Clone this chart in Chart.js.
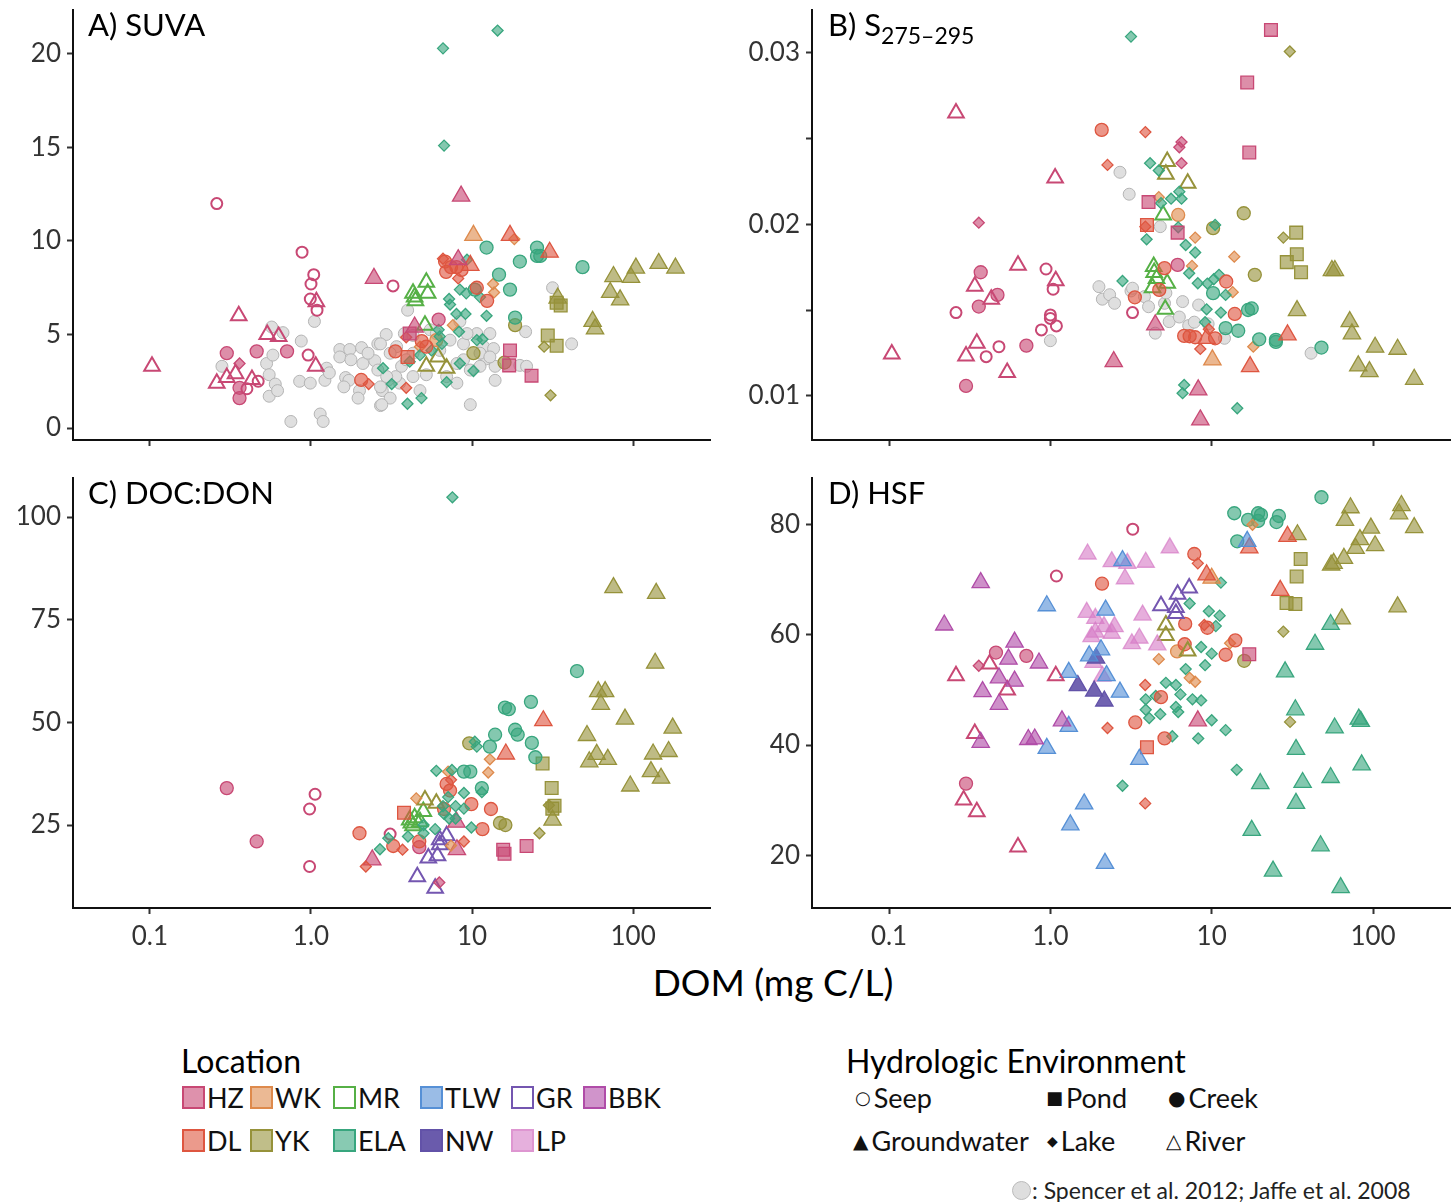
<!DOCTYPE html>
<html>
<head>
<meta charset="utf-8">
<script src="https://cdn.jsdelivr.net/npm/chart.js@4.4.1/dist/chart.umd.min.js"></script>
<style>
  body { margin: 0; background: #fff; overflow: hidden; }
  #page { position: relative; width: 1456px; height: 1202px; overflow: hidden; font-family: Lato, "DejaVu Sans", sans-serif; color: #000; }
  canvas { position: absolute; }
  .txt { position: absolute; line-height: 1; white-space: nowrap; }
  .item { position: absolute; display: flex; align-items: center; font-size: 27px; line-height: 1; white-space: nowrap; color: #111; }
  .sw { width: 23px; height: 23px; box-sizing: border-box; border: 2px solid; margin-right: 2px; }
  .sym { font-family: "DejaVu Sans", sans-serif; margin-right: 3px; }
</style>
</head>
<body>
<div id="page">
  <canvas id="cA" width="728" height="500" style="left:0;top:-30px"></canvas>
  <canvas id="cB" width="730" height="500" style="left:740px;top:-30px"></canvas>
  <canvas id="cC" width="728" height="520" style="left:0;top:438px"></canvas>
  <canvas id="cD" width="730" height="520" style="left:740px;top:438px"></canvas>

  <div class="txt" style="left:88px;top:9px;font-size:31px">A) SUVA</div>
  <div class="txt" style="left:828px;top:9px;font-size:31px">B) S<sub style="font-size:23px;vertical-align:-8px">275–295</sub></div>
  <div class="txt" style="left:88px;top:477px;font-size:31px">C) DOC:DON</div>
  <div class="txt" style="left:828px;top:477px;font-size:31px">D) HSF</div>
  <div class="txt" style="left:773px;top:963px;font-size:37px;transform:translateX(-50%)">DOM (mg C/L)</div>

  <div class="txt" style="left:181px;top:1045px;font-size:32px">Location</div>
  <div id="locLegend"></div>

  <div class="txt" style="left:846px;top:1045px;font-size:32px">Hydrologic Environment</div>
  <div class="item" style="left:855px;top:1084px"><span class="sym" style="font-size:18px">○</span>Seep</div>
  <div class="item" style="left:1046px;top:1084px"><span class="sym" style="font-size:18px">■</span>Pond</div>
  <div class="item" style="left:1168px;top:1084px"><span class="sym" style="font-size:20px">●</span>Creek</div>
  <div class="item" style="left:853px;top:1127px"><span class="sym" style="font-size:20px">▲</span>Groundwater</div>
  <div class="item" style="left:1047px;top:1127px"><span class="sym" style="font-size:14px">◆</span>Lake</div>
  <div class="item" style="left:1166px;top:1127px"><span class="sym" style="font-size:20px">△</span>River</div>
  <div class="item" style="left:1012px;top:1179px;font-size:23px;color:#222"><span style="display:inline-block;width:17px;height:17px;border-radius:50%;background:#dedede;border:1px solid #bbb;margin-right:1px"></span>: Spencer et al. 2012; Jaffe et al. 2008</div>
</div>

<script>
// tick values / labels
const xTickValues = [0.1, 1, 10, 100];
const xTickLabels = ['0.1', '1.0', '10', '100'];
const suvaTicks = [0, 5, 10, 15, 20];
const suvaTickLabels = ['0', '5', '10', '15', '20'];
const slopeTicks = [0.01, 0.015, 0.02, 0.025, 0.03];
const slopeTickLabels = ['0.01', '', '0.02', '', '0.03'];
const ratioTicks = [25, 50, 75, 100];
const ratioTickLabels = ['25', '50', '75', '100'];
const hsfTicks = [20, 40, 60, 80];
const hsfTickLabels = ['20', '40', '60', '80'];

const locations = ['HZ', 'WK', 'MR', 'TLW', 'GR', 'BBK', 'DL', 'YK', 'ELA', 'NW', 'LP'];

// [DOM, value, location, environment]
const suvaPoints = [
  [0.26,12.0,'HZ','seep'],[0.88,9.4,'HZ','seep'],[1.04,8.2,'HZ','seep'],[1.0,7.7,'HZ','seep'],[0.99,6.9,'HZ','seep'],
  [1.09,6.3,'HZ','seep'],[3.23,7.6,'HZ','seep'],[0.96,3.9,'HZ','seep'],[0.47,2.5,'HZ','seep'],[0.40,2.1,'HZ','seep'],
  [0.103,3.3,'HZ','river'],[0.356,6.0,'HZ','river'],[0.535,5.0,'HZ','river'],[0.63,4.9,'HZ','river'],[1.08,6.75,'HZ','river'],
  [1.07,3.3,'HZ','river'],[0.26,2.4,'HZ','river'],[0.30,2.7,'HZ','river'],[0.34,2.9,'HZ','river'],[0.43,2.6,'HZ','river'],
  [0.30,4.0,'HZ','creek'],[0.46,4.1,'HZ','creek'],[0.71,4.1,'HZ','creek'],[0.36,2.15,'HZ','creek'],[0.36,1.6,'HZ','creek'],[6.2,5.8,'HZ','creek'],
  [0.36,3.45,'HZ','lake'],
  [2.46,8.0,'HZ','groundwater'],[8.55,12.4,'HZ','groundwater'],[8.2,9.0,'HZ','groundwater'],[4.4,5.4,'HZ','groundwater'],
  [4.1,5.05,'HZ','pond'],[17.2,4.15,'HZ','pond'],[17.0,3.35,'HZ','pond'],[23.4,2.8,'HZ','pond'],
  [3.34,4.1,'DL','creek'],[2.05,2.57,'DL','creek'],[6.8,8.9,'DL','creek'],[7.4,8.6,'DL','creek'],[6.9,8.35,'DL','creek'],
  [8.0,8.6,'DL','creek'],[8.6,8.45,'DL','creek'],[10.7,7.5,'DL','creek'],[12.4,6.8,'DL','creek'],[4.87,4.65,'DL','creek'],[5.2,4.35,'DL','creek'],
  [2.28,2.35,'DL','lake'],[6.6,9.05,'DL','lake'],[8.2,8.0,'DL','lake'],[3.9,4.85,'DL','lake'],[3.9,2.15,'DL','lake'],
  [17.2,10.3,'DL','groundwater'],[30.3,9.4,'DL','groundwater'],[9.75,8.7,'DL','groundwater'],
  [3.98,3.8,'DL','pond'],
  [14.4,21.25,'ELA','lake'],[6.6,20.3,'ELA','lake'],[6.7,15.1,'ELA','lake'],[9.3,9.0,'ELA','lake'],[8.4,7.4,'ELA','lake'],
  [9.2,7.2,'ELA','lake'],[11.2,7.0,'ELA','lake'],[7.2,6.9,'ELA','lake'],[7.3,6.6,'ELA','lake'],[8.0,6.1,'ELA','lake'],
  [9.1,6.1,'ELA','lake'],[12.3,6.0,'ELA','lake'],[8.3,5.15,'ELA','lake'],[6.2,5.25,'ELA','lake'],[6.3,4.9,'ELA','lake'],
  [6.5,4.5,'ELA','lake'],[5.6,4.15,'ELA','lake'],[10.7,4.7,'ELA','lake'],[11.6,4.75,'ELA','lake'],[4.75,3.9,'ELA','lake'],
  [4.1,3.55,'ELA','lake'],[2.8,3.2,'ELA','lake'],[8.4,3.45,'ELA','lake'],[10.2,3.05,'ELA','lake'],[3.17,2.35,'ELA','lake'],
  [6.95,2.45,'ELA','lake'],[4.85,1.6,'ELA','lake'],[3.97,1.3,'ELA','lake'],
  [12.3,9.65,'ELA','creek'],[25.3,9.65,'ELA','creek'],[25.3,9.2,'ELA','creek'],[26.5,9.2,'ELA','creek'],[19.8,8.9,'ELA','creek'],
  [48.5,8.6,'ELA','creek'],[14.7,8.2,'ELA','creek'],[17.2,7.4,'ELA','creek'],[10.4,7.4,'ELA','creek'],[18.5,5.9,'ELA','creek'],
  [10.2,10.3,'WK','groundwater'],
  [18.3,10.1,'WK','lake'],[13.5,7.7,'WK','lake'],[13.7,7.25,'WK','lake'],[7.6,5.5,'WK','lake'],[4.75,4.35,'WK','lake'],
  [6.0,4.7,'WK','creek'],
  [5.2,7.8,'MR','river'],[5.3,7.2,'MR','river'],[4.3,7.2,'MR','river'],[4.4,7.0,'MR','river'],[4.45,6.8,'MR','river'],[5.1,5.5,'MR','river'],
  [5.2,3.3,'YK','river'],[6.95,3.2,'YK','river'],[6.15,3.8,'YK','river'],
  [10.2,4.0,'YK','creek'],[15.9,3.5,'YK','creek'],[18.5,5.5,'YK','creek'],
  [33.5,6.7,'YK','pond'],[35.5,6.55,'YK','pond'],[29.5,4.95,'YK','pond'],[33.5,4.4,'YK','pond'],
  [28,4.35,'YK','lake'],[30.7,1.75,'YK','lake'],
  [75.5,8.1,'YK','groundwater'],[97,8.05,'YK','groundwater'],[104,8.55,'YK','groundwater'],[144,8.8,'YK','groundwater'],
  [183,8.55,'YK','groundwater'],[72,7.25,'YK','groundwater'],[83,6.85,'YK','groundwater'],[56,5.7,'YK','groundwater'],
  [58,5.3,'YK','groundwater'],[34,6.95,'YK','groundwater']
];

// Spencer et al. 2012; Jaffe et al. 2008
const suvaReference = [
  [0.57,5.4],[0.67,5.1],[0.87,4.65],[0.28,3.3],[0.53,3.45],[0.58,3.9],[0.55,2.85],[0.6,2.35],[0.55,1.7],[0.62,2.0],
  [0.85,2.5],[0.99,2.4],[1.22,2.55],[1.25,3.2],[1.3,2.95],[1.05,5.7],[0.75,0.35],[1.14,0.75],[1.19,0.35],[1.51,4.2],
  [1.74,4.2],[2.06,4.3],[2.6,4.5],[2.93,5.0],[1.51,3.8],[1.77,3.65],[2.1,3.45],[2.49,3.6],[2.26,4.0],[1.64,2.7],
  [1.72,2.55],[1.6,2.2],[2.0,2.0],[1.96,1.6],[2.6,3.1],[3.0,2.55],[2.77,2.0],[3.1,1.6],[2.7,1.2],[3.55,2.4],
  [3.36,2.75],[3.98,6.3],[3.4,4.35],[2.7,4.5],[3.1,4.0],[3.65,3.3],[2.95,2.75],[2.7,2.2],[2.75,1.25],[4.3,2.75],
  [4.75,2.0],[5.2,2.85],[6.3,4.15],[7.3,4.7],[8.05,3.45],[8.05,2.4],[8.85,4.5],[9.75,1.25],[10.7,5.05],[11.8,4.35],
  [12.9,5.05],[13.6,4.25],[12.3,3.7],[13.9,3.3],[13.9,2.55],[11.2,3.3],[9.75,3.1],[11.2,4.0],[19.8,3.35],[21.8,3.3],
  [21.5,5.15],[31.6,7.5],[41.5,4.5],[3.8,5.05],[4.3,4.0],[3.9,3.65],[5.5,5.25],[6.0,5.05],[6.95,2.75],[8.85,3.65],
  [9.3,5.05],[12.9,3.8],[8.4,5.7],[4.3,4.95]
];

const slopePoints = [
  [0.26,0.0265,'HZ','river'],[1.07,0.0227,'HZ','river'],[0.104,0.01245,'HZ','river'],[0.63,0.01762,'HZ','river'],[0.34,0.0164,'HZ','river'],
  [0.43,0.01564,'HZ','river'],[1.08,0.01672,'HZ','river'],[0.35,0.01307,'HZ','river'],[0.30,0.01233,'HZ','river'],[0.54,0.01136,'HZ','river'],
  [0.94,0.0174,'HZ','seep'],[1.04,0.01622,'HZ','seep'],[1.0,0.01472,'HZ','seep'],[1.0,0.01452,'HZ','seep'],[1.09,0.01408,'HZ','seep'],
  [0.88,0.01385,'HZ','seep'],[0.26,0.01486,'HZ','seep'],[0.48,0.01287,'HZ','seep'],[0.40,0.01229,'HZ','seep'],[3.23,0.01486,'HZ','seep'],
  [0.37,0.01721,'HZ','creek'],[0.47,0.01589,'HZ','creek'],[0.36,0.01521,'HZ','creek'],[0.71,0.01293,'HZ','creek'],[0.30,0.01058,'HZ','creek'],[6.15,0.01764,'HZ','creek'],
  [0.36,0.0201,'HZ','lake'],[6.5,0.0248,'HZ','lake'],[6.3,0.0245,'HZ','lake'],[6.5,0.02357,'HZ','lake'],
  [2.47,0.0120,'HZ','groundwater'],[4.47,0.01414,'HZ','groundwater'],[8.25,0.01035,'HZ','groundwater'],[8.5,0.0086,'HZ','groundwater'],
  [23.3,0.03134,'HZ','pond'],[16.6,0.02827,'HZ','pond'],[17.1,0.02419,'HZ','pond'],[4.06,0.0213,'HZ','pond'],[6.15,0.01952,'HZ','pond'],
  [2.08,0.02551,'DL','creek'],[3.34,0.01575,'DL','creek'],[5.1,0.01745,'DL','creek'],[4.73,0.01618,'DL','creek'],[12.3,0.01667,'DL','creek'],
  [13.9,0.01478,'DL','creek'],[6.75,0.0135,'DL','creek'],[7.3,0.01348,'DL','creek'],[7.9,0.01342,'DL','creek'],[10.5,0.01336,'DL','creek'],
  [2.26,0.02347,'DL','lake'],[3.88,0.02538,'DL','lake'],[3.88,0.01987,'DL','lake'],[9.6,0.01389,'DL','lake'],[8.5,0.01274,'DL','lake'],
  [3.97,0.01997,'DL','pond'],
  [9.3,0.01336,'DL','groundwater'],[29.5,0.01356,'DL','groundwater'],[17.3,0.01171,'DL','groundwater'],
  [3.16,0.03095,'ELA','lake'],[2.8,0.0167,'ELA','lake'],[4.15,0.02357,'ELA','lake'],[4.7,0.02314,'ELA','lake'],[6.3,0.02191,'ELA','lake'],
  [4.85,0.02124,'ELA','lake'],[5.6,0.0215,'ELA','lake'],[6.5,0.0215,'ELA','lake'],[6.2,0.01983,'ELA','lake'],[10.5,0.01997,'ELA','lake'],
  [3.95,0.01913,'ELA','lake'],[6.9,0.0188,'ELA','lake'],[7.9,0.01836,'ELA','lake'],[7.25,0.01715,'ELA','lake'],[8.2,0.01657,'ELA','lake'],
  [9.4,0.01655,'ELA','lake'],[11.1,0.01706,'ELA','lake'],[10.3,0.0168,'ELA','lake'],[12.2,0.01589,'ELA','lake'],[9.3,0.01505,'ELA','lake'],
  [11.4,0.01486,'ELA','lake'],[9.1,0.0143,'ELA','lake'],[6.75,0.01064,'ELA','lake'],[6.6,0.01016,'ELA','lake'],[14.4,0.00928,'ELA','lake'],
  [10.2,0.01599,'ELA','creek'],[16.8,0.01501,'ELA','creek'],[17.7,0.0151,'ELA','creek'],[12.2,0.01395,'ELA','creek'],[14.6,0.0138,'ELA','creek'],
  [19.7,0.0133,'ELA','creek'],[25.0,0.01327,'ELA','creek'],[25.0,0.01315,'ELA','creek'],[47.9,0.01282,'ELA','creek'],
  [4.7,0.02159,'WK','lake'],[7.9,0.01923,'WK','lake'],[13.8,0.01812,'WK','lake'],[7.55,0.01758,'WK','lake'],[13.5,0.01605,'WK','lake'],[18.1,0.01287,'WK','lake'],
  [6.2,0.02055,'WK','creek'],
  [10.1,0.0121,'WK','groundwater'],
  [5.0,0.02055,'MR','river'],[4.37,0.01754,'MR','river'],[4.4,0.0172,'MR','river'],[4.55,0.01685,'MR','river'],[5.3,0.01657,'MR','river'],
  [4.3,0.0163,'MR','river'],[5.15,0.01505,'MR','river'],
  [5.3,0.02366,'YK','river'],[5.2,0.02292,'YK','river'],[7.1,0.0224,'YK','river'],
  [15.8,0.02065,'YK','creek'],[18.5,0.01706,'YK','creek'],[10.2,0.01978,'YK','creek'],
  [33.4,0.01952,'YK','pond'],[33.7,0.01826,'YK','pond'],[29.2,0.0178,'YK','pond'],[35.8,0.01721,'YK','pond'],
  [30.5,0.03008,'YK','lake'],[27.8,0.01923,'YK','lake'],
  [55.6,0.01731,'YK','groundwater'],[58,0.01731,'YK','groundwater'],[33.8,0.01497,'YK','groundwater'],[71.7,0.01433,'YK','groundwater'],
  [74,0.01362,'YK','groundwater'],[103,0.01284,'YK','groundwater'],[142,0.01272,'YK','groundwater'],[81,0.01175,'YK','groundwater'],
  [95,0.01142,'YK','groundwater'],[180,0.01097,'YK','groundwater']
];

const slopeReference = [
  [2.7,0.02304],[3.08,0.02176],[2.0,0.01637],[2.1,0.01564],[2.33,0.0159],[2.5,0.0154],[3.16,0.01612],[1.0,0.01322],
  [4.8,0.01987],[3.23,0.01628],[3.83,0.01579],[4.06,0.0152],[5.1,0.0154],[6.6,0.0155],[8.3,0.0153],[5.45,0.01433],
  [6.3,0.0146],[4.47,0.01366],[7.2,0.0141],[7.8,0.0143],[9.5,0.0142],[12,0.01336],[41.3,0.01249],[5.2,0.016]
];

const ratioPoints = [
  [7.55,104.8,'ELA','lake'],[6.0,38.2,'ELA','lake'],[7.5,38.4,'ELA','lake'],[10.4,45.3,'ELA','lake'],[10.7,44.1,'ELA','lake'],
  [8.9,32.8,'ELA','lake'],[7.1,31.8,'ELA','lake'],[7.9,29.6,'ELA','lake'],[8.9,29.0,'ELA','lake'],[6.6,29.6,'ELA','lake'],
  [7.2,26.6,'ELA','lake'],[7.9,26.6,'ELA','lake'],[6.7,27.7,'ELA','lake'],[9.9,24.4,'ELA','lake'],[5.9,24.0,'ELA','lake'],
  [5.0,23.0,'ELA','lake'],[4.0,22.2,'ELA','lake'],[3.02,21.8,'ELA','lake'],[2.68,19.1,'ELA','lake'],[11.5,33.0,'ELA','lake'],[5.0,25.0,'ELA','lake'],
  [44.8,62.5,'ELA','creek'],[16.0,53.6,'ELA','creek'],[16.9,53.2,'ELA','creek'],[23.2,55.0,'ELA','creek'],[13.9,47.0,'ELA','creek'],
  [18.5,48.2,'ELA','creek'],[19.2,47.0,'ELA','creek'],[12.9,44.1,'ELA','creek'],[23.5,45.0,'ELA','creek'],[24.7,41.5,'ELA','creek'],
  [9.75,38.0,'ELA','creek'],[11.5,34.0,'ELA','creek'],[8.9,38.0,'ELA','creek'],
  [75.5,82.8,'YK','groundwater'],[139,81.4,'YK','groundwater'],[137,64.4,'YK','groundwater'],[60.7,57.5,'YK','groundwater'],
  [67,57.5,'YK','groundwater'],[63,54.4,'YK','groundwater'],[89,50.8,'YK','groundwater'],[176,48.6,'YK','groundwater'],
  [51.7,46.8,'YK','groundwater'],[59.4,42.2,'YK','groundwater'],[53.4,40.4,'YK','groundwater'],[69.6,41.0,'YK','groundwater'],
  [133,42.3,'YK','groundwater'],[166,42.9,'YK','groundwater'],[129,38.0,'YK','groundwater'],[149,36.4,'YK','groundwater'],
  [96,34.5,'YK','groundwater'],[31.6,26.2,'YK','groundwater'],
  [27.7,50.4,'DL','groundwater'],[16.2,42.3,'DL','groundwater'],
  [6.95,35.0,'DL','creek'],[7.3,33.4,'DL','creek'],[9.9,30.1,'DL','creek'],[13.1,28.9,'DL','creek'],[6.7,28.9,'DL','creek'],
  [11.6,24.0,'DL','creek'],[2.0,23.0,'DL','creek'],[3.24,19.9,'DL','creek'],[4.7,21.0,'DL','creek'],
  [2.19,14.9,'DL','lake'],[3.7,19.0,'DL','lake'],[8.9,21.0,'DL','lake'],[7.4,36.0,'DL','lake'],
  [3.78,28.0,'DL','pond'],
  [12.9,41.0,'WK','lake'],[12.6,37.8,'WK','lake'],[7.1,38.0,'WK','lake'],[4.5,31.5,'WK','lake'],[7.4,20.0,'WK','lake'],
  [9.6,44.9,'YK','creek'],[14.9,25.5,'YK','creek'],[16.1,25.0,'YK','creek'],
  [5.1,31.1,'YK','river'],[6.0,30.3,'YK','river'],
  [27.4,40.0,'YK','pond'],[31.2,34.0,'YK','pond'],[32.5,29.7,'YK','pond'],[31.5,29.0,'YK','pond'],
  [30,29.8,'YK','lake'],[26.2,23.0,'YK','lake'],
  [4.1,26.2,'MR','river'],[4.4,26.8,'MR','river'],[4.98,28.3,'MR','river'],[4.75,25.8,'MR','river'],[4.2,25.5,'MR','river'],[4.3,24.8,'MR','river'],
  [0.30,34.0,'HZ','creek'],[0.46,21.0,'HZ','creek'],[4.7,19.6,'HZ','creek'],
  [1.06,32.5,'HZ','seep'],[0.98,28.9,'HZ','seep'],[0.98,14.9,'HZ','seep'],[3.1,22.8,'HZ','seep'],
  [2.4,16.5,'HZ','groundwater'],[8.05,19.0,'HZ','groundwater'],[8.0,25.7,'HZ','groundwater'],
  [15.6,19.0,'HZ','pond'],[15.9,18.0,'HZ','pond'],[21.8,19.9,'HZ','pond'],
  [6.26,11.0,'HZ','lake'],
  [6.95,22.4,'GR','river'],[6.3,21.4,'GR','river'],[6.3,20.2,'GR','river'],[5.35,17.0,'GR','river'],[6.1,17.5,'GR','river'],
  [4.57,12.4,'GR','river'],[5.9,9.6,'GR','river']
];

const hsfPoints = [
  [3.24,79.2,'HZ','seep'],[1.09,70.7,'HZ','seep'],
  [0.37,69.5,'BBK','groundwater'],[0.22,61.8,'BBK','groundwater'],[0.60,58.7,'BBK','groundwater'],[0.55,55.6,'BBK','groundwater'],
  [0.48,52.2,'BBK','groundwater'],[0.60,51.6,'BBK','groundwater'],[0.38,49.7,'BBK','groundwater'],[0.48,47.4,'BBK','groundwater'],
  [0.85,54.9,'BBK','groundwater'],[1.18,44.4,'BBK','groundwater'],[0.73,41.0,'BBK','groundwater'],[0.8,41.1,'BBK','groundwater'],
  [0.37,40.5,'BBK','groundwater'],
  [0.26,52.6,'HZ','river'],[0.42,54.7,'HZ','river'],[0.54,50.0,'HZ','river'],[1.08,52.6,'HZ','river'],[0.34,42.1,'HZ','river'],
  [0.29,30.0,'HZ','river'],[0.35,27.9,'HZ','river'],[0.63,21.5,'HZ','river'],
  [0.46,56.8,'HZ','creek'],[0.71,56.2,'HZ','creek'],[0.30,33.0,'HZ','creek'],
  [0.36,54.4,'HZ','lake'],
  [8.2,44.4,'HZ','groundwater'],
  [17.1,56.5,'HZ','pond'],
  [0.95,65.3,'TLW','groundwater'],[2.8,73.5,'TLW','groundwater'],[1.3,53.2,'TLW','groundwater'],[2.06,57.3,'TLW','groundwater'],
  [1.74,56.2,'TLW','groundwater'],[2.23,52.6,'TLW','groundwater'],[2.7,49.6,'TLW','groundwater'],[1.3,43.4,'TLW','groundwater'],
  [0.95,39.4,'TLW','groundwater'],[3.56,37.4,'TLW','groundwater'],[1.62,29.3,'TLW','groundwater'],[1.33,25.5,'TLW','groundwater'],
  [2.18,18.5,'TLW','groundwater'],[2.2,64.5,'TLW','groundwater'],[16.6,77.0,'TLW','groundwater'],
  [1.48,50.8,'NW','groundwater'],[1.87,49.8,'NW','groundwater'],[2.16,48.0,'NW','groundwater'],[1.92,55.8,'NW','groundwater'],
  [1.7,74.7,'LP','groundwater'],[2.4,73.3,'LP','groundwater'],[3.0,73.0,'LP','groundwater'],[3.9,73.2,'LP','groundwater'],
  [5.5,75.8,'LP','groundwater'],[1.68,64.1,'LP','groundwater'],[1.9,63.0,'LP','groundwater'],[2.15,61.5,'LP','groundwater'],
  [2.5,61.5,'LP','groundwater'],[1.9,60.5,'LP','groundwater'],[1.8,59.7,'LP','groundwater'],[2.4,60.3,'LP','groundwater'],
  [3.56,59.4,'LP','groundwater'],[3.2,58.4,'LP','groundwater'],[3.73,63.6,'LP','groundwater'],[4.6,58.2,'LP','groundwater'],
  [1.85,55.0,'LP','groundwater'],[2.1,52.5,'LP','groundwater'],[2.9,70.2,'LP','groundwater'],
  [4.85,65.3,'GR','river'],[6.15,67.4,'GR','river'],[7.25,68.5,'GR','river'],[6.0,65.0,'GR','river'],[6.0,63.9,'GR','river'],
  [5.2,61.8,'YK','river'],[5.2,59.9,'YK','river'],[7.1,57.1,'YK','river'],
  [2.09,69.3,'DL','creek'],[7.8,74.7,'DL','creek'],[6.85,62.0,'DL','creek'],[9.4,61.3,'DL','creek'],[4.85,48.7,'DL','creek'],
  [3.36,44.1,'DL','creek'],[5.1,41.2,'DL','creek'],[6.8,58.3,'DL','creek'],[14,59.0,'DL','creek'],[12.2,56.4,'DL','creek'],
  [8.2,73.0,'DL','lake'],[9.0,61.8,'DL','lake'],[3.87,50.9,'DL','lake'],[2.26,43.1,'DL','lake'],[3.87,29.4,'DL','lake'],
  [9.3,70.9,'DL','groundwater'],[17.1,75.8,'DL','groundwater'],[29.5,77.9,'DL','groundwater'],[26.6,68.1,'DL','groundwater'],
  [3.97,39.6,'DL','pond'],
  [10.0,70.3,'WK','groundwater'],
  [4.7,55.6,'WK','lake'],[7.3,52.2,'WK','lake'],[13,58.5,'WK','lake'],[7.9,51.5,'WK','lake'],[17.9,80.0,'WK','lake'],
  [6.1,57.0,'WK','creek'],
  [11.4,69.5,'ELA','lake'],[7.3,65.7,'ELA','lake'],[9.6,64.3,'ELA','lake'],[11.2,63.5,'ELA','lake'],[10.6,61.6,'ELA','lake'],
  [8.6,57.8,'ELA','lake'],[6.9,53.8,'ELA','lake'],[9.1,54.5,'ELA','lake'],[5.2,51.3,'ELA','lake'],[6.0,50.9,'ELA','lake'],
  [6.4,49.2,'ELA','lake'],[3.9,48.3,'ELA','lake'],[4.5,48.9,'ELA','lake'],[7.6,48.3,'ELA','lake'],[8.6,48.1,'ELA','lake'],
  [3.9,46.4,'ELA','lake'],[4.1,44.9,'ELA','lake'],[4.8,45.6,'ELA','lake'],[6.0,46.9,'ELA','lake'],[6.2,46.0,'ELA','lake'],
  [10.0,44.5,'ELA','lake'],[12.2,42.7,'ELA','lake'],[5.7,41.6,'ELA','lake'],[8.25,41.2,'ELA','lake'],[14.3,35.5,'ELA','lake'],
  [2.8,32.6,'ELA','lake'],[10.0,56.6,'ELA','lake'],
  [13.8,82.1,'ELA','creek'],[14.4,77.0,'ELA','creek'],[47.9,85.0,'ELA','creek'],[16.8,80.9,'ELA','creek'],[19.4,82.1,'ELA','creek'],
  [20.2,81.8,'ELA','creek'],[19.4,80.7,'ELA','creek'],[26.1,81.6,'ELA','creek'],[25.2,80.5,'ELA','creek'],
  [54.6,61.9,'ELA','groundwater'],[43.7,58.3,'ELA','groundwater'],[28.5,53.3,'ELA','groundwater'],[33,46.4,'ELA','groundwater'],
  [57.8,43.1,'ELA','groundwater'],[81.6,44.7,'ELA','groundwater'],[84,44.3,'ELA','groundwater'],[33.3,39.2,'ELA','groundwater'],
  [85,36.4,'ELA','groundwater'],[54.6,34.1,'ELA','groundwater'],[36.6,33.2,'ELA','groundwater'],[20.0,33.0,'ELA','groundwater'],
  [33.3,29.4,'ELA','groundwater'],[17.7,24.5,'ELA','groundwater'],[47.3,21.7,'ELA','groundwater'],[24.0,17.1,'ELA','groundwater'],
  [63,14.1,'ELA','groundwater'],
  [34,78.2,'YK','groundwater'],[72.5,83.1,'YK','groundwater'],[67,80.8,'YK','groundwater'],[150,83.5,'YK','groundwater'],
  [145,82,'YK','groundwater'],[180,79.5,'YK','groundwater'],[97,79.4,'YK','groundwater'],[83,77.3,'YK','groundwater'],
  [103,76.2,'YK','groundwater'],[78,75.7,'YK','groundwater'],[66,73.9,'YK','groundwater'],[55,72.7,'YK','groundwater'],
  [57,73,'YK','groundwater'],[142,65.1,'YK','groundwater'],[64,62.9,'YK','groundwater'],
  [35.6,73.8,'YK','pond'],[33.6,70.6,'YK','pond'],[29.1,65.8,'YK','pond'],[33,65.6,'YK','pond'],
  [27.8,60.6,'YK','lake'],[30.6,44.2,'YK','lake'],
  [15.9,55.3,'YK','creek']
];

// styles
const locColors = {
  HZ: [200, 72, 116], WK: [222, 138, 76], MR: [86, 176, 70], TLW: [86, 144, 214],
  GR: [116, 86, 176], BBK: [176, 76, 168], DL: [222, 86, 64], YK: [150, 146, 58],
  ELA: [56, 166, 126], NW: [98, 82, 168], LP: [214, 124, 198]
};
const markers = {
  seep: { style: 'circle', r: 5.5, bw: 2, open: true },
  river: { style: 'triangle', r: 9, bw: 2, open: true },
  creek: { style: 'circle', r: 6.5, bw: 1.3 },
  pond: { style: 'rect', r: 9, bw: 1.3 },
  groundwater: { style: 'triangle', r: 10, bw: 1.3 },
  lake: { style: 'rectRot', r: 5.5, bw: 1.3 }
};
const FONT = 'Lato, "DejaVu Sans", sans-serif';

function rgba(c, a) { return 'rgba(' + c[0] + ',' + c[1] + ',' + c[2] + ',' + a + ')'; }

// location legend
(function () {
  const box = document.getElementById('locLegend');
  const colX = [182, 250, 333, 420, 511, 583];
  locations.forEach(function (loc, i) {
    const row = i < 6 ? 0 : 1;
    const col = row ? i - 6 : i;
    const c = locColors[loc];
    const open = (loc === 'MR' || loc === 'GR');
    const el = document.createElement('div');
    el.className = 'item';
    el.style.left = colX[col] + 'px';
    el.style.top = (row ? 1127 : 1084) + 'px';
    const sw = document.createElement('span');
    sw.className = 'sw';
    sw.style.borderColor = loc === 'LP' ? rgba(c, 0.5) : rgba(c, 1);
    sw.style.background = open ? '#fff' : rgba(c, loc === 'NW' ? 0.95 : 0.6);
    el.appendChild(sw);
    el.appendChild(document.createTextNode(loc));
    box.appendChild(el);
  });
})();

function buildDatasets(points, reference) {
  const groups = {};
  const order = [];
  points.forEach(function (p) {
    const key = p[2] + '|' + p[3];
    if (!groups[key]) { groups[key] = []; order.push(key); }
    groups[key].push({ x: p[0], y: p[1] });
  });
  const sets = order.map(function (key) {
    const loc = key.split('|')[0], type = key.split('|')[1];
    const c = locColors[loc], m = markers[type];
    const fill = m.open ? 'rgba(255,255,255,0)' : rgba(c, loc === 'NW' ? 0.9 : 0.62);
    const stroke = loc === 'LP' ? rgba(c, 0.7) : rgba(c, 1);
    return {
      label: key, data: groups[key],
      pointStyle: m.style, pointRadius: m.r, pointBorderWidth: m.bw,
      backgroundColor: fill, borderColor: stroke,
      pointBackgroundColor: fill, pointBorderColor: stroke,
      order: 1
    };
  });
  if (reference) {
    sets.push({
      label: 'reference', data: reference.map(function (p) { return { x: p[0], y: p[1] }; }),
      pointStyle: 'circle', pointRadius: 6, pointBorderWidth: 1,
      backgroundColor: '#dfdfdf', borderColor: '#b4b4b4',
      pointBackgroundColor: '#dfdfdf', pointBorderColor: '#b4b4b4',
      order: 5
    });
  }
  return sets;
}

function makeChart(id, points, reference, yRange, yTicks, yLabels, showX, rightPad, yWidth) {
  new Chart(document.getElementById(id), {
    type: 'scatter',
    data: { datasets: buildDatasets(points, reference) },
    options: {
      responsive: false,
      animation: false,
      devicePixelRatio: 1,
      layout: { padding: { top: 40, right: rightPad, bottom: 0, left: 0 } },
      plugins: { legend: { display: false }, tooltip: { enabled: false } },
      scales: {
        x: {
          type: 'logarithmic', min: 0.0333, max: 300,
          afterBuildTicks: function (s) { s.ticks = xTickValues.map(function (v) { return { value: v }; }); },
          afterFit: function (s) { s.height = showX ? 50 : 30; },
          ticks: {
            autoSkip: false, maxRotation: 0, padding: 7, color: '#333',
            font: { family: FONT, size: 26 },
            callback: function (v, i) { return showX ? xTickLabels[i] : ''; }
          },
          grid: { drawOnChartArea: false, drawTicks: true, tickLength: 6, tickColor: '#333', tickWidth: 2 },
          border: { display: true, color: '#111', width: 2 }
        },
        y: {
          type: 'linear', min: yRange[0], max: yRange[1],
          afterBuildTicks: function (s) { s.ticks = yTicks.map(function (v) { return { value: v }; }); },
          afterFit: function (s) { s.width = yWidth; },
          ticks: {
            padding: 6, color: '#333',
            font: { family: FONT, size: 26 },
            callback: function (v, i) { return yLabels[i]; }
          },
          grid: { drawOnChartArea: false, drawTicks: true, tickLength: 6, tickColor: '#333', tickWidth: 2 },
          border: { display: true, color: '#111', width: 2 }
        }
      }
    }
  });
}

makeChart('cA', suvaPoints, suvaReference, [-0.64, 22.35], suvaTicks, suvaTickLabels, false, 18, 73);
makeChart('cB', slopePoints, slopeReference, [0.00743, 0.0325], slopeTicks, slopeTickLabels, false, 20, 72);
makeChart('cC', ratioPoints, null, [4.8, 109.5], ratioTicks, ratioTickLabels, true, 18, 73);
makeChart('cD', hsfPoints, null, [10.4, 88.5], hsfTicks, hsfTickLabels, true, 20, 72);
</script>
</body>
</html>
